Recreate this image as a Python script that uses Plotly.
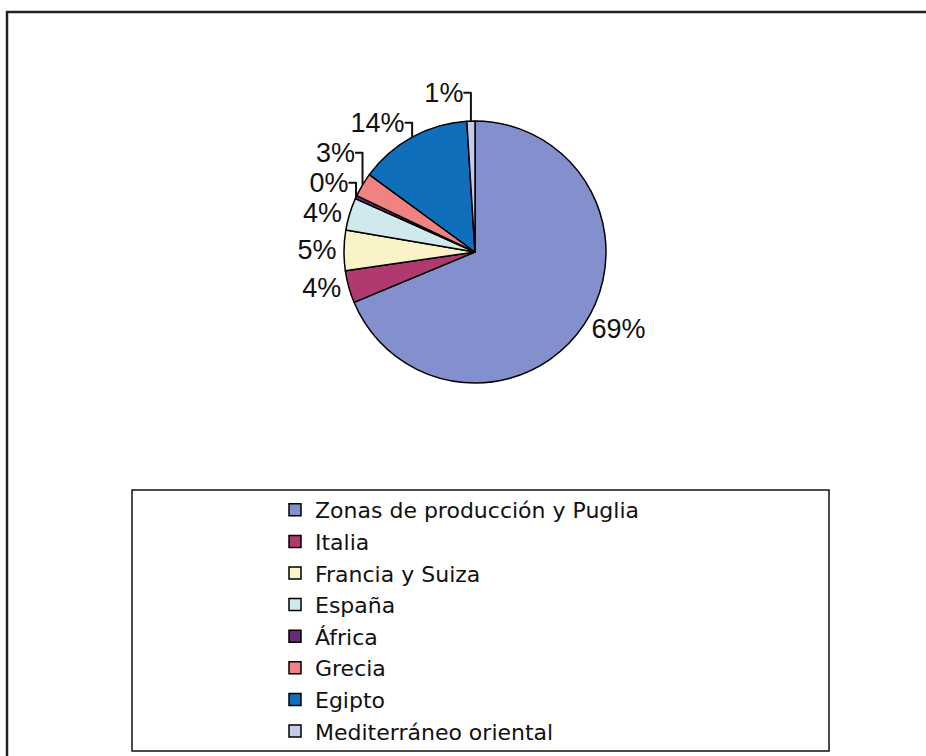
import plotly.graph_objects as go

categories = ["Zonas de producción y Puglia", "Italia", "Francia y Suiza", "España",
              "África", "Grecia", "Egipto", "Mediterráneo oriental"]
values = [69, 4, 5, 4, 0.4, 3, 14, 1]
colors = ["#8490CE", "#B03A70", "#FBF3C8", "#CFE9EC", "#6A2A78", "#F08282", "#0F6FBB", "#C6CBEC"]

W, H = 926, 756
fig = go.Figure()
fig.add_trace(go.Pie(
    labels=categories, values=values, sort=False, direction="clockwise", rotation=0,
    marker=dict(colors=colors, line=dict(color="#000000", width=1.5)),
    texttemplate="%{percent:.0%}", textposition="outside",
    textfont=dict(family="Liberation Sans, Arial, sans-serif", size=27, color="#111111"),
    domain=dict(x=[344 / W, 606 / W], y=[1 - 383 / H, 1 - 121 / H]),
    showlegend=True,
))

fig.update_layout(
    width=W, height=H, margin=dict(l=0, r=0, t=0, b=0),
    paper_bgcolor="white", plot_bgcolor="white",
    legend=dict(x=275 / W, y=1 - 489 / H, xanchor="left", yanchor="top",
                font=dict(family="DejaVu Sans, Liberation Sans, sans-serif",
                          size=22, color="#111111"),
                bgcolor="rgba(0,0,0,0)", itemwidth=30, tracegroupgap=0),
    shapes=[
        dict(type="rect", xref="paper", yref="paper", x0=7 / W, x1=1.01, y0=-0.01, y1=1 - 12 / H,
             line=dict(color="#222222", width=2.5), fillcolor="rgba(0,0,0,0)", layer="below"),
        dict(type="rect", xref="paper", yref="paper", x0=132 / W, x1=829 / W, y0=1 - 751 / H, y1=1 - 490 / H,
             line=dict(color="#111111", width=1.5), fillcolor="rgba(0,0,0,0)", layer="below"),
    ],
)

fig.write_html("out.html", config={"displayModeBar": False},
               post_script="document.body.style.margin='0';")
